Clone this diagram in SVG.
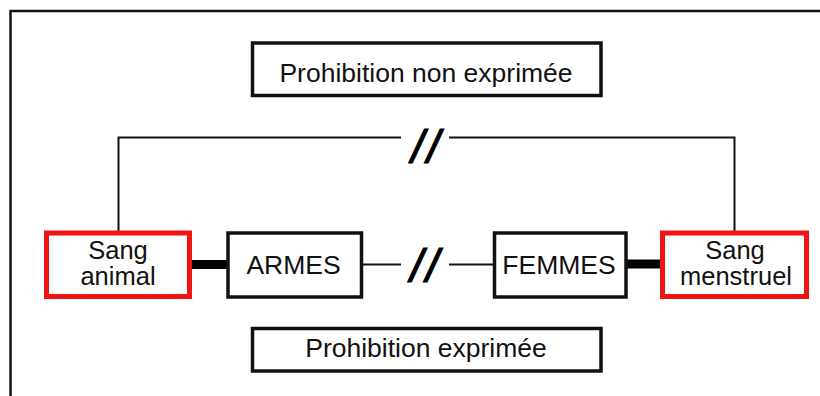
<svg xmlns="http://www.w3.org/2000/svg" width="820" height="396" viewBox="0 0 820 396">
  <style>
    .frame { fill: none; stroke: #111; stroke-width: 2.5; }
    .box { fill: #fff; stroke: #111; stroke-width: 3.5; }
    .blood { fill: #fff; stroke: #f21414; stroke-width: 5; }
    .lbl { font-family: "Liberation Sans", Arial, sans-serif; font-size: 26.5px; fill: #111; text-anchor: middle; }
    .lbl2 { font-family: "Liberation Sans", Arial, sans-serif; font-size: 25.5px; fill: #111; text-anchor: middle; }
    .thin { fill: none; stroke: #111; stroke-width: 2; }
    .thick { fill: none; stroke: #000; stroke-width: 9; }
    .brk { font-family: "Liberation Sans", Arial, sans-serif; font-size: 46px; font-style: italic; fill: #000; stroke: #000; stroke-width: 1.2; text-anchor: middle; letter-spacing: 3px; }
  </style>

  <!-- outer frame (runs off the right and bottom edges) -->
  <rect class="frame" x="10.5" y="11" width="900" height="500"/>

  <!-- connectors -->
  <g id="connectors">
    <!-- upper link between the two kinds of blood, broken by // -->
    <polyline class="thin" points="118.5,233 118.5,137.5 401,137.5"/>
    <polyline class="thin" points="449,137.5 734.5,137.5 734.5,233"/>
    <text class="brk" x="427" y="163">//</text>
    <!-- ARMES // FEMMES -->
    <line class="thin" x1="361.5" y1="264.5" x2="401" y2="264.5"/>
    <line class="thin" x1="449" y1="264.5" x2="494.5" y2="264.5"/>
    <text class="brk" x="426" y="281.5">//</text>
    <!-- strong bonds -->
    <line class="thick" x1="190" y1="264.5" x2="228" y2="264.5"/>
    <line class="thick" x1="626" y1="264" x2="662" y2="264"/>
  </g>

  <g id="prohibition-non-exprimee">
    <rect class="box" x="252.5" y="43" width="348.5" height="52.5"/>
    <text class="lbl" x="426" y="81.5">Prohibition non exprimée</text>
  </g>

  <g id="sang-animal">
    <rect class="blood" x="46.5" y="233" width="143" height="63.5"/>
    <text class="lbl2" x="118" y="258.5">Sang</text>
    <text class="lbl2" x="118" y="285">animal</text>
  </g>

  <g id="armes">
    <rect class="box" x="228" y="233" width="133.5" height="64"/>
    <text class="lbl" x="293.5" y="274">ARMES</text>
  </g>

  <g id="femmes">
    <rect class="box" x="494.5" y="233" width="131.5" height="64"/>
    <text class="lbl" x="559" y="274">FEMMES</text>
  </g>

  <g id="sang-menstruel">
    <rect class="blood" x="662.5" y="233" width="144" height="63.5"/>
    <text class="lbl2" x="735" y="258.5">Sang</text>
    <text class="lbl2" x="736" y="285">menstruel</text>
  </g>

  <g id="prohibition-exprimee">
    <rect class="box" x="252.5" y="328.5" width="348.5" height="42.5"/>
    <text class="lbl" x="426" y="357">Prohibition exprimée</text>
  </g>
</svg>
